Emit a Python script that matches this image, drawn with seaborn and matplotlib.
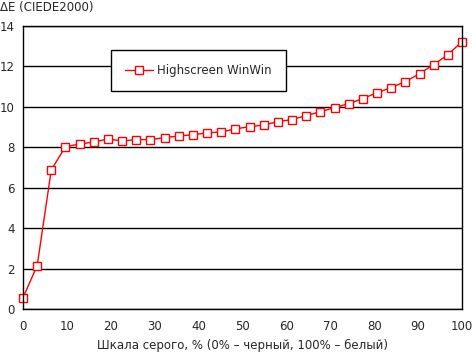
import matplotlib
matplotlib.use('Agg')
import matplotlib.pyplot as plt
import seaborn as sns
import numpy as np
import pandas as pd

# grey level, % (32 steps from 0 to 100)
gray_pct = np.linspace(0, 100, 32)
delta_e = [0.56, 2.14, 6.89, 8.03, 8.16, 8.26, 8.41, 8.31, 8.38, 8.38, 8.48, 8.56,
           8.62, 8.71, 8.76, 8.91, 9.02, 9.10, 9.27, 9.37, 9.57, 9.76, 9.96, 10.16,
           10.41, 10.70, 10.95, 11.25, 11.64, 12.09, 12.58, 13.23]
series_name = 'Highscreen WinWin'

x_ticks = list(range(0, 101, 10))
y_ticks = list(range(0, 15, 2))


def main():
    sns.set_style('white')
    plt.rcParams['font.family'] = ['DejaVu Sans']
    plt.rcParams['font.size'] = 8.5

    df = pd.DataFrame({'x': gray_pct, 'y': delta_e, 'name': series_name})

    fig = plt.figure(figsize=(4.72, 3.52), dpi=100)
    ax = fig.add_axes([23 / 472, 1 - 309 / 352, 439 / 472, 283 / 352])

    sns.lineplot(data=df, x='x', y='y', hue='name', palette=['#ff0000'], ax=ax,
                 marker='s', markersize=6.3, markerfacecolor='white',
                 markeredgecolor='#ff0000', markeredgewidth=1.0, linewidth=1.0)
    for ln in ax.lines:
        ln.set_clip_on(False)

    ax.set_xlim(0, 100)
    ax.set_ylim(0, 14)
    ax.set_xticks(x_ticks)
    ax.set_yticks(y_ticks)
    ax.yaxis.grid(True, color='black', linewidth=1.0)
    ax.xaxis.grid(False)
    ax.set_axisbelow(True)
    for s in ax.spines.values():
        s.set_color('black')
        s.set_linewidth(1.0)
    ax.tick_params(axis='both', direction='out', length=4, width=1, color='black',
                   labelsize=8.5, pad=2)
    ax.tick_params(axis='x', pad=4)

    ax.set_xlabel('Шкала серого, % (0% – черный, 100% – белый)', fontsize=8.5, labelpad=4)
    ax.set_ylabel('')
    fig.text(0.0, 1 - 8 / 352, 'ΔE (CIEDE2000)', fontsize=8.5, ha='left', va='center')

    leg = ax.legend(loc='upper left', bbox_to_anchor=(0.2, 0.915), frameon=True,
                    fancybox=False, edgecolor='black', framealpha=1, borderpad=1.2,
                    handlelength=2.4, handletextpad=0.3, fontsize=8.5, borderaxespad=0)
    leg.get_frame().set_linewidth(1.0)

    fig.savefig('out.png', dpi=100)


if __name__ == '__main__':
    main()
